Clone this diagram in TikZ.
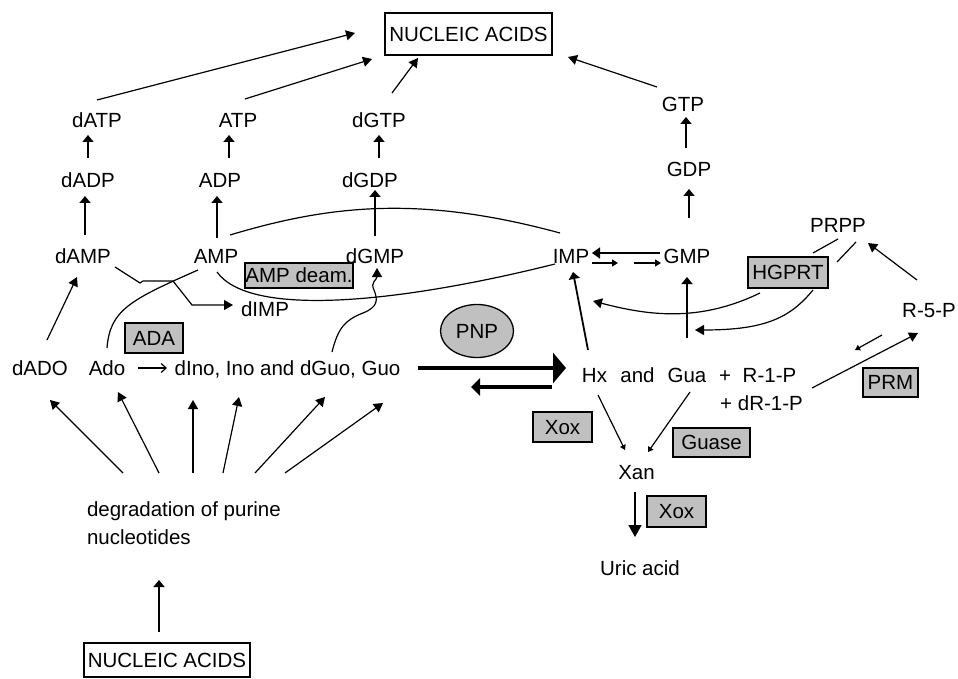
\documentclass[tikz,border=0pt]{standalone}
\usepackage{fontspec}
\setmainfont{Liberation Sans}
\usetikzlibrary{arrows.meta,shapes.geometric}
\definecolor{boxgray}{RGB}{192,192,192}
\begin{document}
\begin{tikzpicture}[x=1pt,y=-1pt,
  every node/.style={inner sep=0pt, outer sep=0pt, font=\fontsize{20.5}{28}\selectfont},
  lbl/.style={text height=14.7pt, text depth=0pt},
  enz/.style={lbl, draw=black, line width=1.4pt, fill=boxgray, align=center},
  nabox/.style={lbl, draw=black, line width=1.3pt},
  ln/.style={line width=1.2pt},
  arr/.style={ln, -{Triangle[length=9pt,width=10pt]}},
  varr/.style={line width=1.8pt, -{Triangle[length=7pt,width=11pt]}},
  sarr/.style={ln, -{Triangle[length=5pt,width=6pt]}},
  barb/.style={ln, -{Straight Barb[length=5pt,width=9pt]}},
  fwd/.style={line width=4pt, -{Triangle[length=13pt,width=30pt]}},
  bwd/.style={line width=3.5pt, -{Triangle[length=9pt,width=17pt]}}
]
\useasboundingbox (0,0) rectangle (958,679);

% ---- nodes ----
\node[nabox, minimum width=167pt, minimum height=42pt] (NAtop) at (468.5,34) {NUCLEIC ACIDS};
\node[lbl] (dATP) at (97,120) {dATP};
\node[lbl] (ATP)  at (238,120) {ATP};
\node[lbl] (dGTP) at (379,120) {dGTP};
\node[lbl] (GTP)  at (683,104.5) {GTP};
\node[lbl] (dADP) at (88,180) {dADP};
\node[lbl] (ADP)  at (220,180) {ADP};
\node[lbl] (dGDP) at (370,180) {dGDP};
\node[lbl] (GDP)  at (689,169) {GDP};
\node[lbl] (dAMP) at (83,256) {dAMP};
\node[lbl] (AMP)  at (216,256) {AMP};
\node[lbl] (dGMP) at (375,256) {dGMP};
\node[lbl] (IMP)  at (571,256) {IMP};
\node[lbl] (GMP)  at (687,256) {GMP};
\node[lbl] (PRPP) at (838,225) {PRPP};
\node[lbl] (R5P)  at (929,310) {R-5-P};
\node[lbl] (dIMP) at (265,309) {dIMP};
\node[lbl] (dADO) at (40,368) {dADO};
\node[lbl] (Ado)  at (107,368) {Ado};
\node[lbl] (nucs) at (287.5,368) {dIno, Ino and dGuo, Guo};
\node[lbl] (Hx)   at (594.5,375) {Hx};
\node[lbl] (andw) at (637.5,375) {and};
\node[lbl] (Gua)  at (687,375) {Gua};
\node[lbl] (plus) at (725,375) {+};
\node[lbl] (R1P)  at (769.5,375) {R-1-P};
\node[lbl] (dR1P) at (761.5,403) {+ dR-1-P};
\node[lbl] (Xan)  at (636.5,472) {Xan};
\node[lbl] (Uric) at (640,568) {Uric acid};
\node[anchor=west, align=left] (deg) at (87,523.5) {degradation of purine\\nucleotides};
\node[nabox, minimum width=166pt, minimum height=34pt] (NAbot) at (167,660) {NUCLEIC ACIDS};

\node[enz, minimum width=108pt, minimum height=25pt] (AMPdeam) at (299,275.5) {AMP deam.};
\node[enz, minimum width=58pt, minimum height=30pt] (ADA) at (154,338) {ADA};
\node[enz, minimum width=80pt, minimum height=31pt] (HGPRT) at (788,272.5) {HGPRT};
\node[enz, minimum width=55pt, minimum height=29pt] (PRM) at (890.5,382.5) {PRM};
\node[enz, minimum width=59pt, minimum height=30pt] (Xox1) at (562.5,427) {Xox};
\node[enz, minimum width=77pt, minimum height=29pt] (Guase) at (711.5,442.5) {Guase};
\node[enz, minimum width=59pt, minimum height=31pt] (Xox2) at (676.5,511.5) {Xox};
\node[ellipse, lbl, draw=black, line width=1.3pt, fill=boxgray, minimum width=73pt, minimum height=53pt] (PNP) at (477,331) {PNP};

% ---- to nucleic acids ----
\draw[arr] ([shift={(0,-20)}]dATP.center) -- ([shift={(-113.5,-1)}]NAtop.center);
\draw[arr] ([shift={(7,-21)}]ATP.center) -- ([shift={(-96.5,25)}]NAtop.center);
\draw[arr] ([shift={(13,-27)}]dGTP.center) -- ([shift={(-50.5,24)}]NAtop.center);
\draw[arr] ([shift={(-26,-17.5)}]GTP.center) -- ([shift={(99.5,23)}]NAtop.center);

% ---- phosphorylation ----
\draw[varr] ([shift={(0,-22)}]dADP.center) -- ([shift={(-9,15)}]dATP.center);
\draw[varr] ([shift={(9,-22)}]ADP.center) -- ([shift={(-9,15)}]ATP.center);
\draw[varr] ([shift={(9,-22)}]dGDP.center) -- ([shift={(0,15)}]dGTP.center);
\draw[varr] ([shift={(-3,-21)}]GDP.center) -- ([shift={(3,12.5)}]GTP.center);
\draw[varr] ([shift={(2,-21)}]dAMP.center) -- ([shift={(-3,16)}]dADP.center);
\draw[varr] ([shift={(1,-18)}]AMP.center) -- ([shift={(-3,16)}]ADP.center);
\draw[varr] ([shift={(0,-20)}]dGMP.center) -- ([shift={(5,10)}]dGDP.center);
\draw[varr] ([shift={(2,-38)}]GMP.center) -- ([shift={(0,20)}]GDP.center);

% ---- AMP / IMP curves ----
\draw[ln] ([shift={(14,-21)}]AMP.center) .. controls +(100,-30) and +(-140,-38) .. ([shift={(-11,-23)}]IMP.center);
\draw[ln] ([shift={(1,16)}]AMP.center) .. controls +(33,46) and +(-156,39) .. ([shift={(-16,8)}]IMP.center);
\draw[ln] ([shift={(0,-20)}]Ado.center) .. controls +(3,-38) and +(-68,30) .. ([shift={(-18,14)}]AMP.center);
\draw[arr] ([shift={(32,11)}]dAMP.center) -- ++(25,16) -- ++(3,-2) -- ++(30,0) -- ++(19,24) -- ([shift={(-32,-4)}]dIMP.center);
\draw[arr] ([shift={(7,-28)}]dADO.center) -- ([shift={(-6,21)}]dAMP.center);
\draw[arr] ([shift={(44.5,-16)}]nucs.center) .. controls +(6,-24) and +(-18,7) .. ++(31,-39)
   .. controls +(15,-6) and +(4,10) .. ++(11,-23)
   .. controls +(-4,-8) and +(0,12) .. ([shift={(2,12)}]dGMP.center);
\draw[barb] ([shift={(31,0)}]Ado.center) -- ([shift={(-120.5,0)}]nucs.center);

% ---- PNP ----
\draw[fwd] ([shift={(130.5,0)}]nucs.center) -- ([shift={(-28.5,-7)}]Hx.center);
\draw[bwd] ([shift={(-42.5,12)}]Hx.center) -- ([shift={(183.5,19)}]nucs.center);

% ---- IMP / GMP ----
\draw[varr] ([shift={(-6.5,-25)}]Hx.center) -- ([shift={(2,16)}]IMP.center);
\draw[varr] ([shift={(0,-37)}]Gua.center) -- ([shift={(0,21)}]GMP.center);
\draw[line width=1.6pt, -{Triangle[length=8pt,width=11pt]}] ([shift={(-27,-3)}]GMP.center) -- ([shift={(21,-3)}]IMP.center);
\draw[line width=1.4pt, -{Triangle[length=6pt,width=7pt]}] ([shift={(21,7)}]IMP.center) -- ([shift={(47,7)}]IMP.center);
\draw[line width=1.4pt, -{Triangle[length=6pt,width=7pt]}] ([shift={(-53,7)}]GMP.center) -- ([shift={(-26,7)}]GMP.center);

% ---- HGPRT ----
\draw[arr] ([shift={(-28,20.5)}]HGPRT.center) .. controls +(-60,29) and +(57,15) .. ([shift={(22,45)}]IMP.center);
\draw[arr] ([shift={(25,17.5)}]HGPRT.center) .. controls +(-23,28) and +(70,0) .. ([shift={(8,-45)}]Gua.center);
\draw[ln] ([shift={(25,-19.5)}]HGPRT.center) -- ([shift={(0,14)}]PRPP.center);
\draw[ln] ([shift={(49,-10.5)}]HGPRT.center) -- ([shift={(18,17)}]PRPP.center);
\draw[arr] ([shift={(-12,-30)}]R5P.center) -- ([shift={(30,18)}]PRPP.center);

% ---- PRM ----
\draw[arr] ([shift={(50.5,-15)}]dR1P.center) -- ([shift={(-11,23)}]R5P.center);
\draw[sarr] ([shift={(-47,25)}]R5P.center) -- ([shift={(93.5,-53)}]dR1P.center);

% ---- xanthine ----
\draw[sarr] ([shift={(3.5,20)}]Hx.center) -- ([shift={(-11.5,-22)}]Xan.center);
\draw[sarr] ([shift={(3,17)}]Gua.center) -- ([shift={(11.5,-20)}]Xan.center);
\draw[line width=1.6pt, -{Triangle[length=12pt,width=13pt]}] ([shift={(-1.5,20)}]Xan.center) -- ([shift={(-5,-31)}]Uric.center);

% ---- degradation ----
\draw[varr] ([shift={(-8,-28)}]NAbot.center) -- ([shift={(72,56.5)}]deg.west);
\draw[arr] ([shift={(36,-50.5)}]deg.west) -- ([shift={(10,32)}]dADO.center);
\draw[arr] ([shift={(72,-50.5)}]deg.west) -- ([shift={(11,24)}]Ado.center);
\draw[arr] ([shift={(106,-50.5)}]deg.west) -- ([shift={(-94.5,32)}]nucs.center);
\draw[arr] ([shift={(136,-50.5)}]deg.west) -- ([shift={(-48.5,29)}]nucs.center);
\draw[arr] ([shift={(168,-50.5)}]deg.west) -- ([shift={(37.5,29)}]nucs.center);
\draw[arr] ([shift={(198,-50.5)}]deg.west) -- ([shift={(95.5,35)}]nucs.center);
\end{tikzpicture}
\end{document}
